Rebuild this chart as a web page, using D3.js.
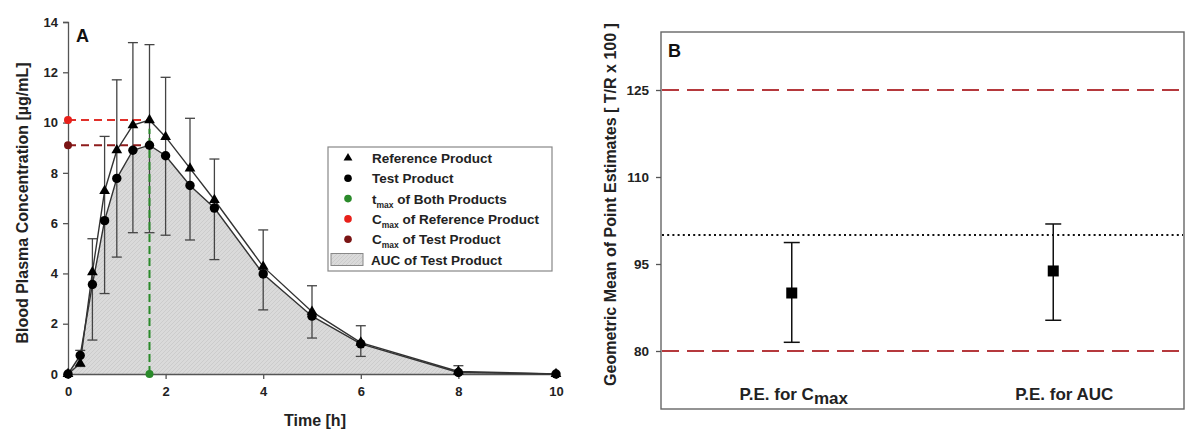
<!DOCTYPE html>
<html>
<head>
<meta charset="utf-8">
<script src="https://cdn.jsdelivr.net/npm/d3@7"></script>
<style>
  html, body { margin: 0; padding: 0; background: #fff; }
  svg { display: block; font-family: "Liberation Sans", Arial, sans-serif; font-weight: bold; }
</style>
</head>
<body>
<svg id="chart" width="1200" height="432"></svg>
<script>
// ---- Panel A: mean plasma concentration–time profiles ----
const times        = [0, 0.25, 0.5, 0.75, 1, 1.33, 1.67, 2, 2.5, 3, 4, 5, 6, 8, 10];
const refConc      = [0, 0.42, 4.05, 7.28, 8.9, 9.9, 10.1, 9.43, 8.18, 6.92, 4.27, 2.48, 1.25, 0.1, 0.0];
const testConc     = [0, 0.74, 3.56, 6.1, 7.78, 8.9, 9.1, 8.68, 7.5, 6.6, 3.98, 2.3, 1.2, 0.06, 0.0];
const errUpper     = [null, 0.94, 5.38, 9.45, 11.7, 13.18, 13.1, 11.8, 10.17, 8.55, 5.73, 3.51, 1.92, 0.33, null];
const errLower     = [null, 0.3, 1.35, 3.2, 4.65, 5.62, 5.62, 5.52, 5.33, 4.55, 2.55, 1.43, 0.7, 0.0, null];
const tmaxBoth     = 1.67;
const cmaxRef      = 10.1;
const cmaxTest     = 9.1;
const tmaxLineTop  = 9.75;
const xTicksA      = [0, 2, 4, 6, 8, 10];
const yTicksA      = [0, 2, 4, 6, 8, 10, 12, 14];

// ---- Panel B: point estimates with 90% confidence intervals ----
const peCategories = ["Cmax", "AUC"];
const peValues     = [90.0, 93.8];
const peLower      = [81.5, 85.3];
const peUpper      = [98.7, 101.9];
const beLimits     = [80, 125];
const unityLine    = 100;
const yTicksB      = [80, 95, 110, 125];

const svg = d3.select("#chart");
const axisGray = "#555";
const fontFam = "Liberation Sans, Arial, sans-serif";

// ================= Panel A =================
const A = { left: 68, right: 556, top: 22, bottom: 374 };
const xA = d3.scaleLinear().domain([0, 10]).range([A.left, A.right]);
const yA = d3.scaleLinear().domain([0, 14]).range([A.bottom, A.top]);

const defs = svg.append("defs");
const pat = defs.append("pattern")
  .attr("id", "aucHatch").attr("patternUnits", "userSpaceOnUse")
  .attr("width", 4).attr("height", 4);
pat.append("rect").attr("width", 4).attr("height", 4).attr("fill", "#dadada");
pat.append("path").attr("d", "M0,4 L4,0").attr("stroke", "#c9c9c9").attr("stroke-width", 0.8);

const gA = svg.append("g");

// AUC of test product
const testPts = times.map((t, i) => [t, testConc[i]]);
const refPts  = times.map((t, i) => [t, refConc[i]]);
gA.append("path")
  .datum(testPts)
  .attr("d", d3.area().x(d => xA(d[0])).y0(yA(0)).y1(d => yA(d[1])))
  .attr("fill", "url(#aucHatch)");

// Axes
const yAxisA = d3.axisLeft(yA).tickValues(yTicksA).tickSize(5).tickPadding(5);
const xAxisA = d3.axisBottom(xA).tickValues(xTicksA).tickSize(5).tickPadding(8);
const gyA = gA.append("g").attr("transform", `translate(${A.left},0)`).call(yAxisA);
const gxA = gA.append("g").attr("transform", `translate(0,${A.bottom})`).call(xAxisA);
[gyA, gxA].forEach(g => {
  g.select(".domain").attr("stroke", axisGray).attr("stroke-width", 1.3);
  g.selectAll(".tick line").attr("stroke", axisGray).attr("stroke-width", 1.3);
  g.selectAll(".tick text").attr("fill", "#222").attr("font-size", 13)
    .attr("font-family", fontFam).attr("font-weight", "bold");
});

// Error bars
const capA = 5;
const errData = times.map((t, i) => ({ t, hi: errUpper[i], lo: errLower[i] })).filter(d => d.hi !== null);
const eb = gA.append("g").attr("stroke", "#444").attr("stroke-width", 1.3);
eb.selectAll("line.v").data(errData).join("line")
  .attr("x1", d => xA(d.t)).attr("x2", d => xA(d.t))
  .attr("y1", d => yA(d.hi)).attr("y2", d => yA(d.lo));
eb.selectAll("line.hi").data(errData).join("line")
  .attr("x1", d => xA(d.t) - capA).attr("x2", d => xA(d.t) + capA)
  .attr("y1", d => yA(d.hi)).attr("y2", d => yA(d.hi));
eb.selectAll("line.lo").data(errData).join("line")
  .attr("x1", d => xA(d.t) - capA).attr("x2", d => xA(d.t) + capA)
  .attr("y1", d => yA(d.lo)).attr("y2", d => yA(d.lo));

// Cmax / tmax guide lines
gA.append("line")
  .attr("x1", xA(0)).attr("x2", xA(tmaxBoth)).attr("y1", yA(cmaxRef)).attr("y2", yA(cmaxRef))
  .attr("stroke", "#e0302a").attr("stroke-width", 2).attr("stroke-dasharray", "8,5");
gA.append("line")
  .attr("x1", xA(0)).attr("x2", xA(tmaxBoth)).attr("y1", yA(cmaxTest)).attr("y2", yA(cmaxTest))
  .attr("stroke", "#8e1c1c").attr("stroke-width", 2).attr("stroke-dasharray", "8,5");
gA.append("line")
  .attr("x1", xA(tmaxBoth)).attr("x2", xA(tmaxBoth)).attr("y1", yA(0)).attr("y2", yA(tmaxLineTop))
  .attr("stroke", "#2a8a2a").attr("stroke-width", 2).attr("stroke-dasharray", "8,4");

// Profiles
const line = d3.line().x(d => xA(d[0])).y(d => yA(d[1]));
gA.append("path").datum(refPts).attr("d", line).attr("fill", "none").attr("stroke", "#333").attr("stroke-width", 1.4);
gA.append("path").datum(testPts).attr("d", line).attr("fill", "none").attr("stroke", "#333").attr("stroke-width", 1.4);

const tri = d3.symbol().type(d3.symbolTriangle).size(50);
gA.append("g").selectAll("path").data(refPts).join("path")
  .attr("d", tri).attr("transform", d => `translate(${xA(d[0])},${yA(d[1])})`).attr("fill", "#000");
gA.append("g").selectAll("circle").data(testPts).join("circle")
  .attr("cx", d => xA(d[0])).attr("cy", d => yA(d[1])).attr("r", 4.7).attr("fill", "#000");

// Cmax / tmax markers
gA.append("circle").attr("cx", xA(0)).attr("cy", yA(cmaxRef)).attr("r", 4).attr("fill", "#e8201a");
gA.append("circle").attr("cx", xA(0)).attr("cy", yA(cmaxTest)).attr("r", 4).attr("fill", "#7a1414");
gA.append("circle").attr("cx", xA(tmaxBoth)).attr("cy", yA(0)).attr("r", 4).attr("fill", "#2a8a2a");

// Titles
gA.append("text").attr("x", 76).attr("y", 42).attr("font-size", 18).attr("fill", "#111").text("A");
gA.append("text").attr("x", xA(5) + 3).attr("y", 426).attr("text-anchor", "middle")
  .attr("font-size", 16).attr("fill", "#222").text("Time [h]");
gA.append("text").attr("transform", `translate(28,${(A.top + A.bottom) / 2 + 5}) rotate(-90)`)
  .attr("text-anchor", "middle").attr("font-size", 16).attr("fill", "#222")
  .text("Blood Plasma Concentration [µg/mL]");

// Legend
const lg = gA.append("g").attr("transform", "translate(328,147)");
lg.append("rect").attr("width", 224).attr("height", 124).attr("fill", "#fff")
  .attr("stroke", "#888").attr("stroke-width", 1.2);
const legendItems = [
  { kind: "tri",  color: "#000",    main: "Reference Product" },
  { kind: "dot",  color: "#000",    main: "Test Product" },
  { kind: "dot",  color: "#2a8a2a", pre: "t", sub: "max", main: " of Both Products" },
  { kind: "dot",  color: "#e8201a", pre: "C", sub: "max", main: " of Reference Product" },
  { kind: "dot",  color: "#7a1414", pre: "C", sub: "max", main: " of Test Product" },
  { kind: "area", main: "AUC of Test Product" }
];
legendItems.forEach((it, i) => {
  const cy = 11 + i * 20.3;
  if (it.kind === "tri") {
    lg.append("path").attr("d", d3.symbol().type(d3.symbolTriangle).size(34))
      .attr("transform", `translate(20,${cy})`).attr("fill", it.color);
  } else if (it.kind === "dot") {
    lg.append("circle").attr("cx", 20).attr("cy", cy).attr("r", 3.8).attr("fill", it.color);
  } else {
    lg.append("rect").attr("x", 3).attr("y", cy - 6).attr("width", 32).attr("height", 12)
      .attr("fill", "url(#aucHatch)").attr("stroke", "#888").attr("stroke-width", 1);
  }
  const tx = lg.append("text").attr("x", it.kind === "area" ? 43 : 44).attr("y", cy + 5)
    .attr("font-size", 13.5).attr("fill", "#222");
  if (it.pre) {
    tx.append("tspan").text(it.pre);
    tx.append("tspan").attr("font-size", 8.5).attr("dy", 4).text(it.sub);
    tx.append("tspan").attr("dy", -4).text(it.main);
  } else {
    tx.text(it.main);
  }
});

// ================= Panel B =================
const B = { left: 661, right: 1184, top: 32, bottom: 409 };
const xB = d3.scalePoint().domain(peCategories).range([B.left, B.right]).padding(0.5);
const yB = d3.scaleLinear().domain([70, 135]).range([B.bottom, B.top]);
const gB = svg.append("g");

gB.append("rect").attr("x", B.left).attr("y", B.top)
  .attr("width", B.right - B.left).attr("height", B.bottom - B.top)
  .attr("fill", "none").attr("stroke", "#666").attr("stroke-width", 1.4);

const yAxisB = d3.axisLeft(yB).tickValues(yTicksB).tickSize(5).tickPadding(7);
const gyB = gB.append("g").attr("transform", `translate(${B.left},0)`).call(yAxisB);
gyB.select(".domain").remove();
gyB.selectAll(".tick line").attr("stroke", axisGray).attr("stroke-width", 1.3);
gyB.selectAll(".tick text").attr("fill", "#222").attr("font-size", 13.5)
  .attr("font-family", fontFam).attr("font-weight", "bold");

// Bioequivalence limits and unity line
gB.selectAll("line.lim").data(beLimits).join("line")
  .attr("x1", B.left + 1).attr("x2", B.right - 1)
  .attr("y1", d => yB(d)).attr("y2", d => yB(d))
  .attr("stroke", "#b5393d").attr("stroke-width", 2).attr("stroke-dasharray", "17,8");
gB.append("line")
  .attr("x1", B.left + 1).attr("x2", B.right - 1).attr("y1", yB(unityLine)).attr("y2", yB(unityLine))
  .attr("stroke", "#111").attr("stroke-width", 2.2).attr("stroke-dasharray", "2,3.2");

// Point estimates with CIs
const peData = peCategories.map((c, i) => ({ c, v: peValues[i], lo: peLower[i], hi: peUpper[i] }));
const capB = 8;
const pe = gB.append("g").attr("stroke", "#111").attr("stroke-width", 1.5);
pe.selectAll("line.v").data(peData).join("line")
  .attr("x1", d => xB(d.c)).attr("x2", d => xB(d.c)).attr("y1", d => yB(d.hi)).attr("y2", d => yB(d.lo));
pe.selectAll("line.hi").data(peData).join("line")
  .attr("x1", d => xB(d.c) - capB).attr("x2", d => xB(d.c) + capB).attr("y1", d => yB(d.hi)).attr("y2", d => yB(d.hi));
pe.selectAll("line.lo").data(peData).join("line")
  .attr("x1", d => xB(d.c) - capB).attr("x2", d => xB(d.c) + capB).attr("y1", d => yB(d.lo)).attr("y2", d => yB(d.lo));
gB.selectAll("rect.pt").data(peData).join("rect")
  .attr("x", d => xB(d.c) - 5.5).attr("y", d => yB(d.v) - 5.5).attr("width", 11).attr("height", 11)
  .attr("fill", "#000");

// Category labels
const catCmax = gB.append("text").attr("x", xB("Cmax") + 2).attr("y", 400).attr("text-anchor", "middle")
  .attr("font-size", 17).attr("fill", "#222");
catCmax.append("tspan").text("P.E. for C");
catCmax.append("tspan").attr("dy", 4).text("max");
gB.append("text").attr("x", xB("AUC") + 11).attr("y", 400).attr("text-anchor", "middle")
  .attr("font-size", 17).attr("fill", "#222").text("P.E. for AUC");

gB.append("text").attr("x", 668).attr("y", 57).attr("font-size", 18).attr("fill", "#111").text("B");
gB.append("text").attr("transform", `translate(616,${(B.top + B.bottom) / 2 - 16}) rotate(-90)`)
  .attr("text-anchor", "middle").attr("font-size", 16).attr("fill", "#222")
  .text("Geometric Mean of Point Estimates [ T/R x 100 ]");
</script>
</body>
</html>
